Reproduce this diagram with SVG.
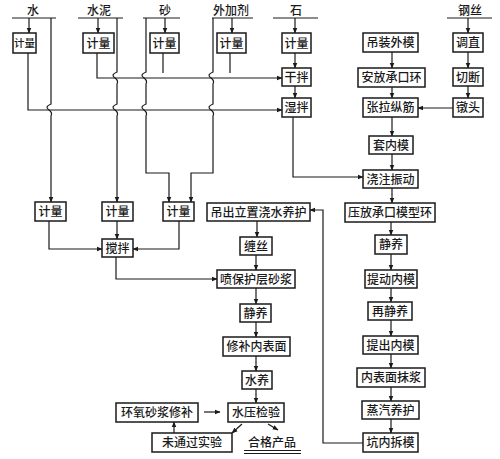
<svg xmlns="http://www.w3.org/2000/svg" width="500" height="459" viewBox="0 0 500 459">
<defs>
<marker id="ah" viewBox="0 0 10 10" refX="9" refY="5" markerWidth="6" markerHeight="6" orient="auto" markerUnits="userSpaceOnUse">
<path d="M0,1 L10,5 L0,9 Z" fill="#1a1a1a"/>
</marker>
<style>
.b{fill:#fff;stroke:#1a1a1a;stroke-width:1.5}
.t{font-family:"Noto Sans CJK SC","Noto Sans CJK JP",sans-serif;font-size:12px;fill:#1a1a1a;text-anchor:middle;font-weight:500}
.s{font-size:10.5px}
.c{fill:none;stroke:#1a1a1a;stroke-width:1.2}
.a{marker-end:url(#ah)}
</style>
</defs>
<rect width="500" height="459" fill="#fff"/>

<g id="sources">
<text class="t" x="33" y="15">水</text>
<text class="t" x="99" y="15">水泥</text>
<text class="t" x="165" y="15">砂</text>
<text class="t" x="231" y="15">外加剂</text>
<text class="t" x="296" y="15">石</text>
<text class="t" x="470" y="15">钢丝</text>
</g>

<g id="connectors">
<path class="c" d="M12,18 H56 M78,18 H123 M143,18 H180 M212,18 H253 M273,18 H318 M447,18 H492"/>
<path class="c a" d="M29,18 V33"/>
<path class="c a" d="M98,18 V33"/>
<path class="c a" d="M165,18 V33"/>
<path class="c a" d="M232,18 V33"/>
<path class="c a" d="M295,18 V33"/>
<path class="c a" d="M468,18 V33"/>
<path class="c a" d="M51,18 V104 c-5,2 -5,4 -2,6 c3,2 3,4 2,6 V202"/>
<path class="c a" d="M117,18 V72 c-5,2 -5,4 -2,6 c3,2 3,4 2,6 V104 c-5,2 -5,4 -2,6 c3,2 3,4 2,6 V202"/>
<path class="c a" d="M146,18 V72 c-5,2 -5,4 -2,6 c3,2 3,4 2,6 V104 c-5,2 -5,4 -2,6 c3,2 3,4 2,6 V173 H169 V202"/>
<path class="c a" d="M213,18 V72 c-5,2 -5,4 -2,6 c3,2 3,4 2,6 V104 c-5,2 -5,4 -2,6 c3,2 3,4 2,6 V173 H191 V202"/>
<path class="c a" d="M28,53 V110 H282"/>
<path class="c a" d="M97,53 V78 H282"/>
<path class="c" d="M163,53 V73 M230,53 V73"/>
<path class="c a" d="M295,53 V68"/>
<path class="c a" d="M295,86 V98"/>
<path class="c a" d="M293,117 V177 H363"/>
<path class="c a" d="M392,52 V68"/>
<path class="c a" d="M392,87 V98"/>
<path class="c a" d="M392,117 V136"/>
<path class="c a" d="M392,154 V170"/>
<path class="c a" d="M392,188 V203"/>
<path class="c a" d="M391,222 V235"/>
<path class="c a" d="M391,254 V270"/>
<path class="c a" d="M391,288 V302"/>
<path class="c a" d="M391,320 V336"/>
<path class="c a" d="M391,354 V368"/>
<path class="c a" d="M391,387 V401"/>
<path class="c a" d="M391,419 V433"/>
<path class="c a" d="M468,52 V68"/>
<path class="c a" d="M468,86 V98"/>
<path class="c a" d="M453,108 H418"/>
<path class="c a" d="M363,443 H323 V210 H310"/>
<path class="c a" d="M257,221 V237"/>
<path class="c a" d="M256,255 V270"/>
<path class="c a" d="M49,221 V249 H102"/>
<path class="c a" d="M117,221 V239"/>
<path class="c a" d="M179,221 V249 H133"/>
<path class="c a" d="M116,257 V279 H217"/>
<path class="c a" d="M256,288 V304"/>
<path class="c a" d="M256,322 V337"/>
<path class="c a" d="M256,356 V371"/>
<path class="c a" d="M256,389 V403"/>
<path class="c a" d="M204,412 H220"/>
<path class="c a" d="M174,433 V422"/>
<path class="c a" d="M242,424 L232,433"/>
<path class="c a" d="M268,424 L278,430"/>
<path class="c" d="M244,450.5 H301 M244,453.5 H301"/>
</g>

<g id="n-jl-water"><rect class="b" x="13" y="33" width="23" height="20"/><text class="t s" x="24.5" y="47">计量</text></g>
<g id="n-jl-cement"><rect class="b" x="83" y="33" width="31" height="20"/><text class="t" x="98.5" y="47.5">计量</text></g>
<g id="n-jl-sand"><rect class="b" x="150" y="33" width="29" height="20"/><text class="t" x="164.5" y="47.5">计量</text></g>
<g id="n-jl-add"><rect class="b" x="217" y="33" width="29" height="20"/><text class="t" x="231.5" y="47.5">计量</text></g>
<g id="n-jl-stone"><rect class="b" x="282" y="33" width="29" height="20"/><text class="t" x="296.5" y="47.5">计量</text></g>
<g id="n-ganban"><rect class="b" x="282" y="68" width="29" height="18"/><text class="t" x="296.5" y="81.5">干拌</text></g>
<g id="n-shiban"><rect class="b" x="282" y="98" width="29" height="19"/><text class="t" x="296.5" y="112">湿拌</text></g>

<g id="n-diaozhuang"><rect class="b" x="363" y="33" width="55" height="19"/><text class="t" x="390.5" y="47">吊装外模</text></g>
<g id="n-anfang"><rect class="b" x="358" y="68" width="67" height="19"/><text class="t" x="391.5" y="82">安放承口环</text></g>
<g id="n-zhangla"><rect class="b" x="363" y="98" width="55" height="19"/><text class="t" x="390.5" y="112">张拉纵筋</text></g>
<g id="n-tiaozhi"><rect class="b" x="453" y="33" width="30" height="19"/><text class="t" x="468" y="47">调直</text></g>
<g id="n-qieduan"><rect class="b" x="453" y="68" width="30" height="18"/><text class="t" x="468" y="81.5">切断</text></g>
<g id="n-duntou"><rect class="b" x="453" y="98" width="30" height="19"/><text class="t" x="468" y="112">镦头</text></g>
<g id="n-taoneimo"><rect class="b" x="369" y="136" width="44" height="18"/><text class="t" x="391" y="149.5">套内模</text></g>
<g id="n-jiaozhu"><rect class="b" x="363" y="170" width="55" height="18"/><text class="t" x="390.5" y="183.5">浇注振动</text></g>
<g id="n-yafang"><rect class="b" x="345" y="203" width="90" height="19"/><text class="t" x="390" y="217">压放承口模型环</text></g>
<g id="n-jingyang-r"><rect class="b" x="375" y="235" width="32" height="19"/><text class="t" x="391" y="249">静养</text></g>
<g id="n-tidong"><rect class="b" x="365" y="270" width="52" height="18"/><text class="t" x="391" y="283.5">提动内模</text></g>
<g id="n-zaijingyang"><rect class="b" x="368" y="302" width="44" height="18"/><text class="t" x="390" y="315.5">再静养</text></g>
<g id="n-tichu"><rect class="b" x="363" y="336" width="55" height="18"/><text class="t" x="390.5" y="349.5">提出内模</text></g>
<g id="n-neibiaomian"><rect class="b" x="357" y="368" width="68" height="19"/><text class="t" x="391" y="382">内表面抹浆</text></g>
<g id="n-zhengqi"><rect class="b" x="362" y="401" width="57" height="18"/><text class="t" x="390.5" y="414.5">蒸汽养护</text></g>
<g id="n-kengnei"><rect class="b" x="363" y="433" width="55" height="19"/><text class="t" x="390.5" y="447">坑内拆模</text></g>

<g id="n-jl-a"><rect class="b" x="35" y="202" width="31" height="19"/><text class="t" x="50.5" y="216">计量</text></g>
<g id="n-jl-b"><rect class="b" x="102" y="202" width="31" height="19"/><text class="t" x="117.5" y="216">计量</text></g>
<g id="n-jl-c"><rect class="b" x="163" y="202" width="31" height="19"/><text class="t" x="178.5" y="216">计量</text></g>
<g id="n-jiaoban"><rect class="b" x="102" y="239" width="31" height="18"/><text class="t" x="117.5" y="252.5">搅拌</text></g>
<g id="n-diaochu"><rect class="b" x="207" y="203" width="103" height="18"/><text class="t" x="258.5" y="216.5">吊出立置浇水养护</text></g>
<g id="n-chansi"><rect class="b" x="240" y="237" width="32" height="18"/><text class="t" x="256" y="250.5">缠丝</text></g>
<g id="n-pen"><rect class="b" x="217" y="270" width="78" height="18"/><text class="t" x="256" y="283.5">喷保护层砂浆</text></g>
<g id="n-jingyang-l"><rect class="b" x="240" y="304" width="31" height="18"/><text class="t" x="255.5" y="317.5">静养</text></g>
<g id="n-xiubu"><rect class="b" x="223" y="337" width="67" height="19"/><text class="t" x="256.5" y="351">修补内表面</text></g>
<g id="n-shuiyang"><rect class="b" x="242" y="371" width="30" height="18"/><text class="t" x="257" y="384.5">水养</text></g>
<g id="n-shuiya"><rect class="b" x="228" y="403" width="56" height="19"/><text class="t" x="256" y="417">水压检验</text></g>
<g id="n-huanyang"><rect class="b" x="116" y="403" width="82" height="19"/><text class="t" x="157" y="417">环氧砂浆修补</text></g>
<g id="n-weitongguo"><rect class="b" x="152" y="433" width="80" height="19"/><text class="t" x="192" y="447">未通过实验</text></g>
<g id="n-hege"><text class="t" x="272" y="447">合格产品</text></g>
</svg>
